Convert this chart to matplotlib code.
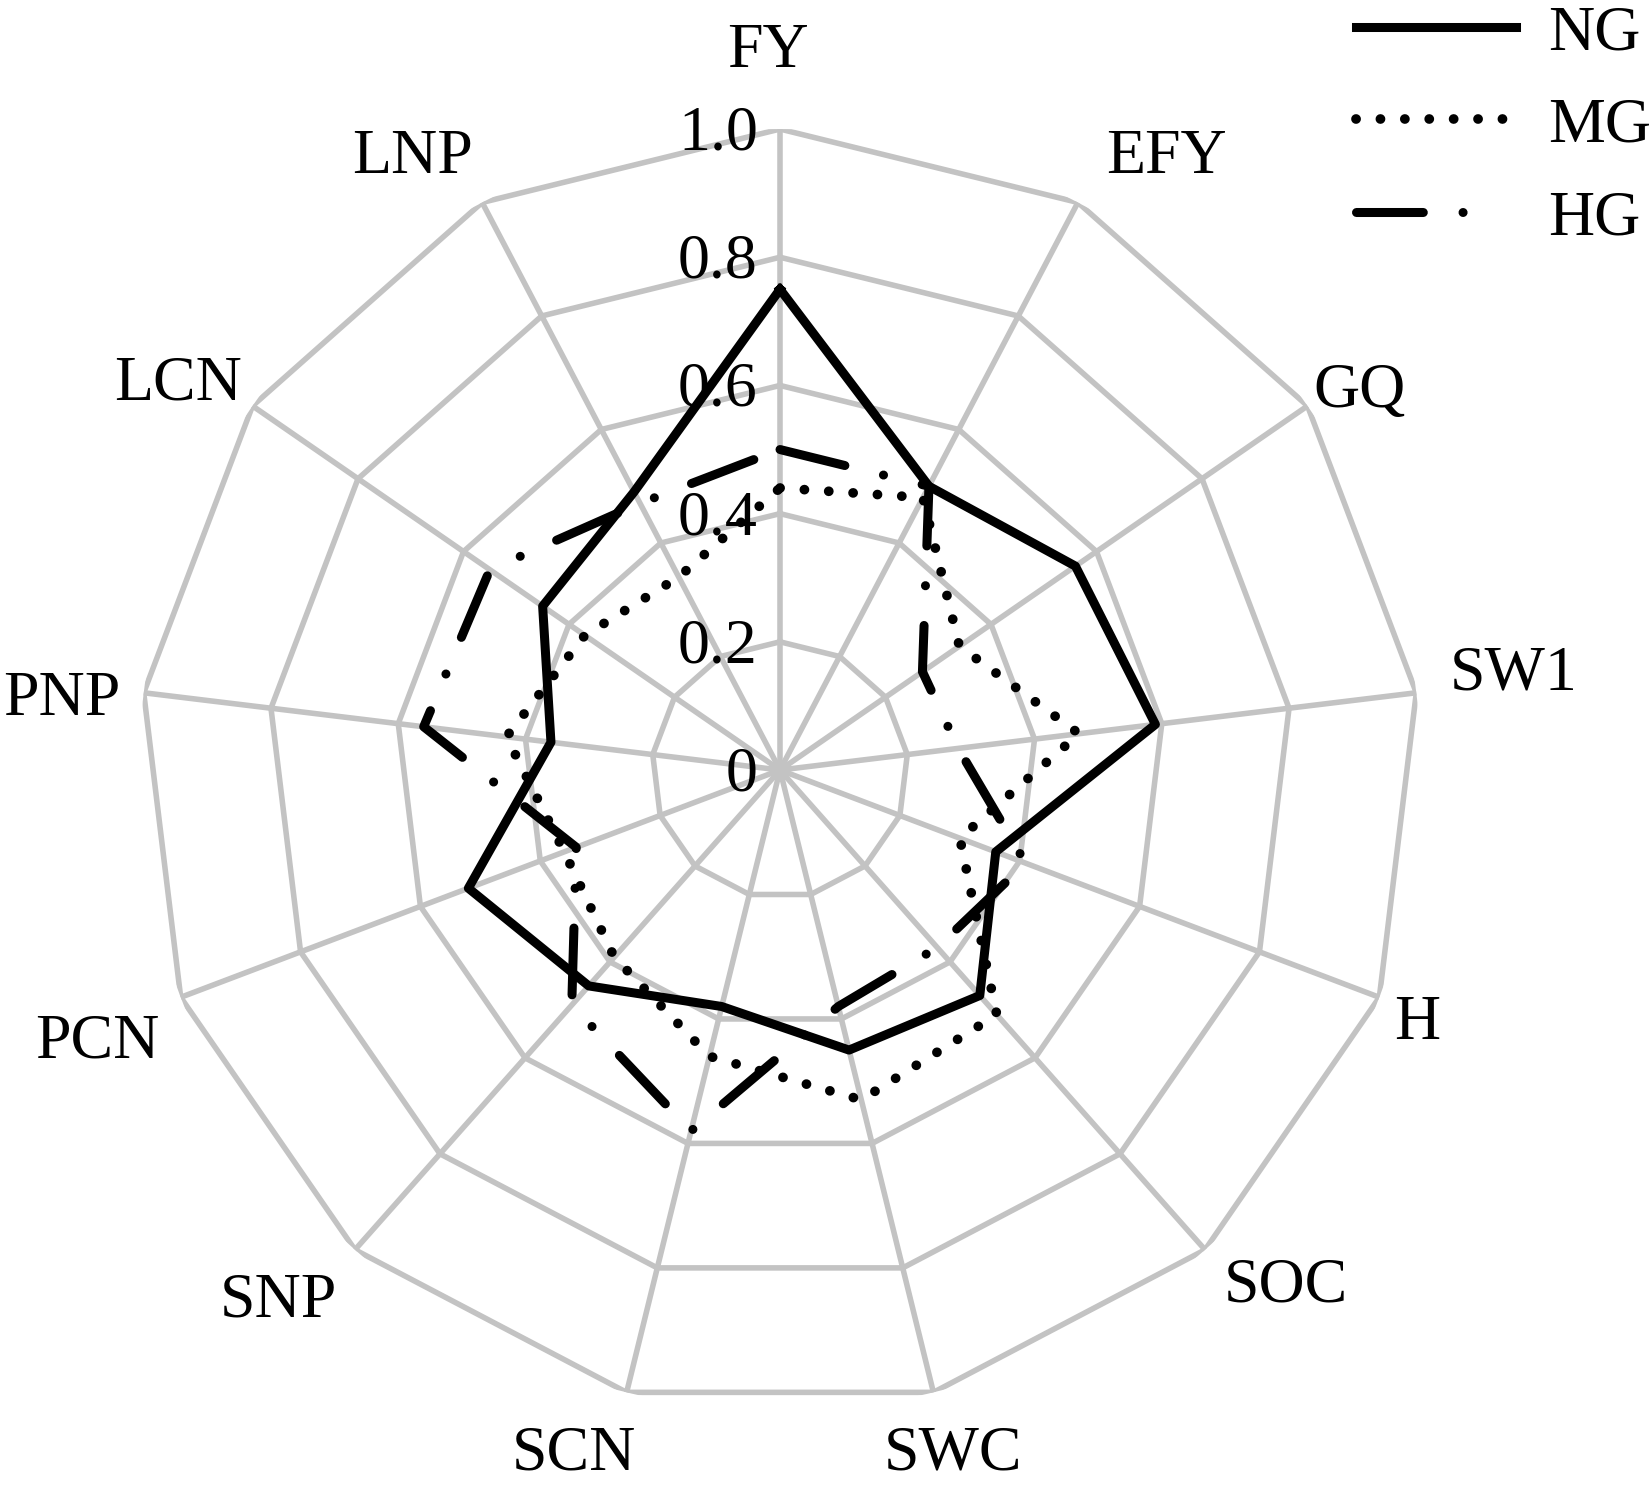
import numpy as np
import matplotlib.pyplot as plt
from matplotlib.lines import Line2D

plt.rcParams['font.family'] = ['Liberation Serif', 'DejaVu Serif']

# data
labels = ['FY', 'EFY', 'GQ', 'SW1', 'H', 'SOC', 'SWC', 'SCN', 'SNP', 'PCN', 'PNP', 'LCN', 'LNP']
ng = [0.75, 0.50, 0.56, 0.59, 0.36, 0.47, 0.45, 0.38, 0.45, 0.52, 0.36, 0.45, 0.49]
mg = [0.44, 0.48, 0.34, 0.47, 0.30, 0.51, 0.53, 0.46, 0.39, 0.36, 0.43, 0.37, 0.34]
hg = [0.50, 0.50, 0.27, 0.28, 0.41, 0.37, 0.38, 0.58, 0.49, 0.34, 0.56, 0.55, 0.47]
ticks = [0, 0.2, 0.4, 0.6, 0.8, 1.0]
tick_labels = ['0', '0.2', '0.4', '0.6', '0.8', '1.0']

# nudges (points) so the category names sit where the original has them
label_nudge = [(-9, -2), (37, -19), (-10, -23), (13, 6), (-27, 1), (20, 17), (0, 11),
               (-24, 11), (-17, 6), (-6, -12), (-2, -12), (-6, -17), (-23, -19)]

n = len(labels)
theta = np.arange(n) * 2 * np.pi / n
theta_c = np.append(theta, theta[0])

def closed(v):
    return np.append(v, v[0])

fig = plt.figure(figsize=(16.51, 14.92), dpi=100)
ax = fig.add_axes([0.0842, 0.0543, 0.7765, 0.8592], projection='polar')
ax.set_theta_offset(np.pi / 2)
ax.set_theta_direction(-1)
ax.set_ylim(0, 1)
ax.set_axis_off()

grid_col = '#c3c3c3'
# rings
for r in ticks[1:]:
    ax.plot(theta_c, [r] * (n + 1), color=grid_col, lw=4.0, zorder=1)
# spokes
for t in theta:
    ax.plot([t, t], [0, 1], color=grid_col, lw=4.0, zorder=1)

# series
lw = 6.5
dot_style = (0, (0.01, 2.5))
dashdot_style = (0, (7.4, 4.4, 0.01, 4.4))
ax.plot(theta_c, closed(hg), color='black', lw=lw, zorder=3,
        linestyle=dashdot_style, dash_capstyle='round')
ax.plot(theta_c, closed(mg), color='black', lw=7, zorder=3,
        linestyle=dot_style, dash_capstyle='round')
ax.plot(theta_c, closed(ng), color='black', lw=lw, zorder=4)

# axis labels
for t, lab, (dx, dy) in zip(theta, labels, label_nudge):
    ax.annotate(lab, xy=(t, 1.125), xytext=(dx, dy), textcoords='offset points',
                ha='center', va='center', fontsize=46, annotation_clip=False)

# radial tick labels along FY axis
for r, tl in zip(ticks, tick_labels):
    ax.annotate(tl, xy=(0, r), xytext=(-16, -4), textcoords='offset points',
                ha='right', va='center', fontsize=46, annotation_clip=False)

handles = [
    Line2D([], [], color='black', lw=lw),
    Line2D([], [], color='black', lw=7, linestyle=dot_style, dash_capstyle='round'),
    Line2D([], [], color='black', lw=lw, linestyle=(0, (7.4, 4.4, 0.01, 20)),
           dash_capstyle='round'),
]
fig.legend(handles, ['NG', 'MG', 'HG'], loc='upper right', bbox_to_anchor=(1.0, 0.997),
           frameon=False, fontsize=46, handlelength=2.5, handletextpad=0.5,
           labelspacing=0.53, borderpad=0, borderaxespad=0)

fig.savefig('out.png', dpi=100)
